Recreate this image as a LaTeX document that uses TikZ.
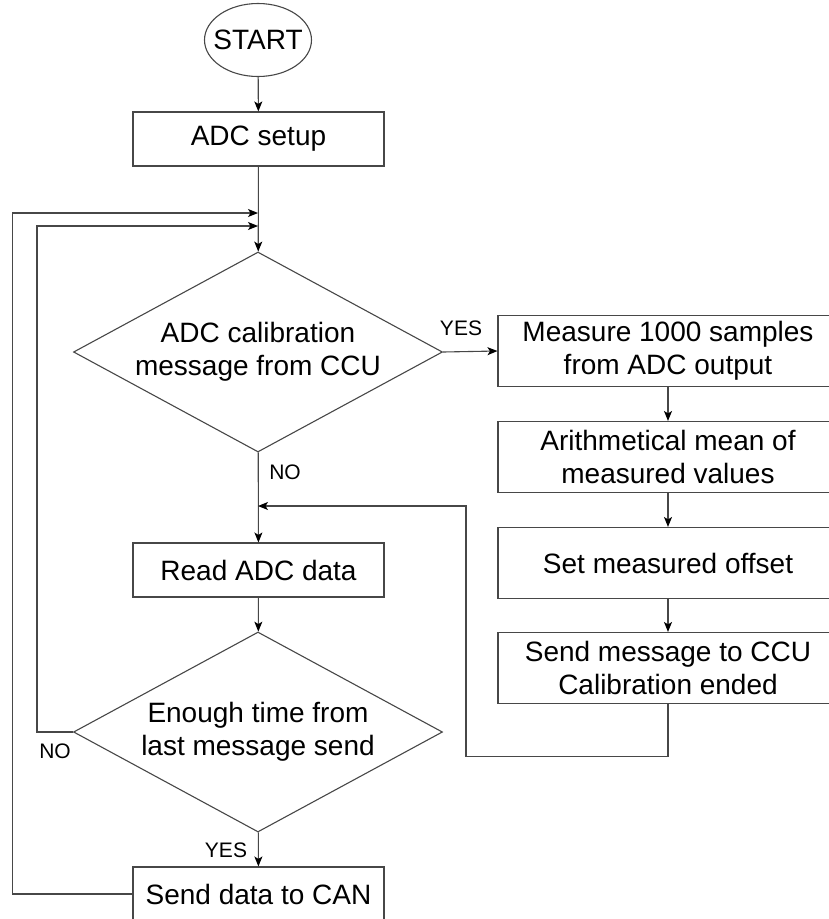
\documentclass[tikz,border=0pt]{standalone}
\usepackage{fontspec}
\setmainfont{Liberation Sans}
\usetikzlibrary{calc,positioning,arrows.meta,shapes.geometric}
\tikzset{
  wire/.style={line width=1.1pt, draw=black!72},
  flow/.style={wire, -{Stealth[length=10pt,width=8pt,inset=2.5pt,black]}},
  box/.style={draw=black!72, line width=1.1pt, fill=white, minimum width=251pt, minimum height=54pt,
    inner sep=2pt, align=center, font=\fontsize{28}{33}\selectfont},
  widebox/.style={box, minimum width=340pt, minimum height=71pt},
  decision/.style={diamond, draw=black!72, line width=1.1pt, aspect=1.845, inner sep=0pt,
    minimum width=369pt, minimum height=200pt, align=center, font=\fontsize{28}{33}\selectfont},
  terminal/.style={ellipse, draw=black!72, line width=1.1pt, inner sep=0pt,
    minimum width=107pt, minimum height=73pt, font=\fontsize{28}{33}\selectfont},
  answer/.style={inner sep=0pt, font=\fontsize{21}{25}\selectfont}
}
\begin{document}
\begin{tikzpicture}[x=1pt,y=-1pt]
  \useasboundingbox (0,0) rectangle (828,919);
  % main column
  \node[terminal] (start) at (258,40) {\makebox[60pt][c]{START}};
  \node[box] (setup) at (258.5,139) {ADC setup};
  \node[decision] (calib) at (258,352) {\makebox[230pt][c]{ADC calibration}\\message from CCU};
  \node[box] (read) at (258.5,570) {Read ADC data};
  \node[decision] (check) at (258,732) {Enough time from\\last message send};
  \node[box] (can) at (258.5,894) {Send data to CAN};
  % calibration column
  \node[widebox] (measure) at (668,351) {Measure 1000 samples\\from ADC output};
  \node[widebox] (mean) at (668,457) {Arithmetical mean of\\measured values};
  \node[widebox] (offset) at (668,563) {Set measured offset};
  \node[widebox] (report) at (668,668) {Send message to CCU\\Calibration ended};
  % junctions on the main line
  \coordinate (jcan) at (258,213);
  \coordinate (jno) at (258,226);
  \coordinate (jback) at (258,506);
  % connectors
  \draw[flow] (start) -- (setup);
  \draw[flow] (setup) -- (calib);
  \draw[flow] (calib) -- (read);
  \draw[flow] (read) -- (check);
  \draw[flow] (check) -- (can);
  \draw[flow] (calib.east) -- (measure.west);
  \draw[flow] (measure) -- (mean);
  \draw[flow] (mean) -- (offset);
  \draw[flow] (offset) -- (report);
  \draw[flow] (report.south) -- ++(0,52) -- ++(-202,0) |- (jback);
  \draw[flow] (check.west) -- ++(-36,0) |- (jno);
  \draw[flow] (can.west) -- ++(-120,0) |- (jcan);
  % branch labels
  \node[answer] (yes1) at (461,328) {YES};
  \node[answer] (no1) at (285,472) {NO};
  \node[answer] (no2) at (55,751) {NO};
  \node[answer] (yes2) at (226,850) {YES};
\end{tikzpicture}
\end{document}
